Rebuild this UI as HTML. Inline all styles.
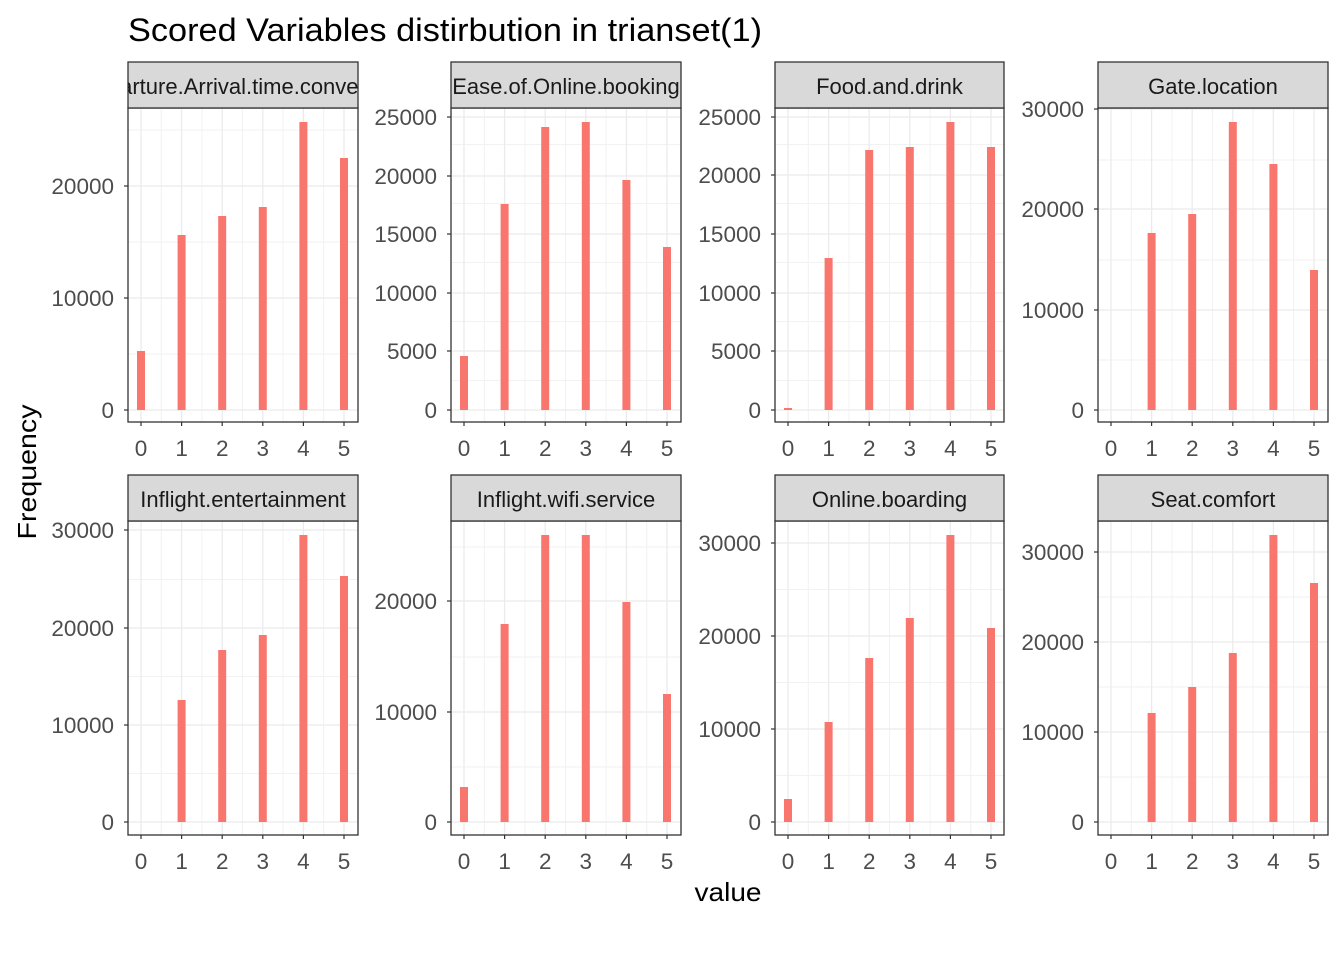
<!DOCTYPE html>
<html><head><meta charset="utf-8"><style>
html,body{margin:0;padding:0;background:#fff}
svg{display:block;font-family:"Liberation Sans",Arial,sans-serif}
</style></head><body>
<svg id="s" width="1344" height="960" xmlns="http://www.w3.org/2000/svg">
<text x="128" y="41" font-size="32" fill="#000" textLength="634" lengthAdjust="spacingAndGlyphs">Scored Variables distirbution in trianset(1)</text>
<text x="728" y="901" font-size="26" fill="#000" text-anchor="middle" textLength="67" lengthAdjust="spacingAndGlyphs">value</text>
<text transform="translate(36,472) rotate(-90)" font-size="26" fill="#000" text-anchor="middle" textLength="135" lengthAdjust="spacingAndGlyphs">Frequency</text>
</svg>
<script>
var s=document.getElementById('s');var NS='http://www.w3.org/2000/svg';
function el(t,a,txt){var e=document.createElementNS(NS,t);for(var k in a)e.setAttribute(k,a[k]);if(txt!=null)e.textContent=txt;s.appendChild(e);return e;}
var cols=[[128,358],[451,681],[775,1004],[1098,1328]];
var rows=[{st:62,top:108,bot:422,zero:410},{st:475,top:521,bot:835,zero:822}];
var P=[
 {c:0,r:0,name:"Departure.Arrival.time.convenient",ticks:[[0,410],[10000,298],[20000,186]],bars:[351,235,216,207,122,158]},
 {c:1,r:0,name:"Ease.of.Online.booking",ticks:[[0,410],[5000,351],[10000,293],[15000,234],[20000,176],[25000,117]],bars:[356,204,127,122,180,247]},
 {c:2,r:0,name:"Food.and.drink",ticks:[[0,410],[5000,351],[10000,293],[15000,234],[20000,175],[25000,117]],bars:[408,258,150,147,122,147]},
 {c:3,r:0,name:"Gate.location",ticks:[[0,410],[10000,310],[20000,209],[30000,109]],bars:[null,233,214,122,164,270]},
 {c:0,r:1,name:"Inflight.entertainment",ticks:[[0,822],[10000,725],[20000,628],[30000,530]],bars:[null,700,650,635,535,576]},
 {c:1,r:1,name:"Inflight.wifi.service",ticks:[[0,822],[10000,712],[20000,601]],bars:[787,624,535,535,602,694]},
 {c:2,r:1,name:"Online.boarding",ticks:[[0,822],[10000,729],[20000,636],[30000,543]],bars:[799,722,658,618,535,628]},
 {c:3,r:1,name:"Seat.comfort",ticks:[[0,822],[10000,732],[20000,642],[30000,552]],bars:[null,713,687,653,535,583]}
];
P.forEach(function(p,i){
 var x0=cols[p.c][0],x1=cols[p.c][1],R=rows[p.r];
 var xs=function(v){return x0+13+v*40.6;};
 for(var v=0.5;v<5;v+=1)el('line',{x1:xs(v),x2:xs(v),y1:R.top,y2:R.bot,stroke:'#f2f2f2','stroke-width':1});
 var t=p.ticks,d=t[0][1]-t[1][1];
 for(var j=0;j<t.length+1;j++){var y=t[0][1]-d*(j+0.5);if(y>R.top)el('line',{x1:x0,x2:x1,y1:y,y2:y,stroke:'#f2f2f2','stroke-width':1});}
 var ym=t[0][1]+d*0.5; if(ym<R.bot)el('line',{x1:x0,x2:x1,y1:ym,y2:ym,stroke:'#f2f2f2'});
 for(var v=0;v<=5;v++)el('line',{x1:xs(v),x2:xs(v),y1:R.top,y2:R.bot,stroke:'#ebebeb','stroke-width':1.3});
 t.forEach(function(tk){el('line',{x1:x0,x2:x1,y1:tk[1],y2:tk[1],stroke:'#ebebeb','stroke-width':1.3});
  el('line',{x1:x0-4,x2:x0,y1:tk[1],y2:tk[1],stroke:'#333','stroke-width':1.2});
  el('text',{x:x0-14,y:tk[1]+8,'font-size':22.5,fill:'#4d4d4d','text-anchor':'end'},String(tk[0]));});
 p.bars.forEach(function(b,k){if(b==null)return;var h=R.zero-b;if(h<1.5){b=R.zero-1.5;h=1.5;}
  el('rect',{x:xs(k)-4,y:b,width:8,height:h,fill:'#f8766d'});});
 for(var v=0;v<=5;v++){el('line',{x1:xs(v),x2:xs(v),y1:R.bot,y2:R.bot+4,stroke:'#333','stroke-width':1.2});
  el('text',{x:xs(v),y:R.bot+34,'font-size':22.5,fill:'#4d4d4d','text-anchor':'middle'},String(v));}
 el('rect',{x:x0,y:R.top,width:x1-x0,height:R.bot-R.top,fill:'none',stroke:'#333','stroke-width':1.3});
 var cp=el('clipPath',{id:'c'+i});var r=document.createElementNS(NS,'rect');r.setAttribute('x',x0);r.setAttribute('y',R.st);r.setAttribute('width',x1-x0);r.setAttribute('height',R.top-R.st);cp.appendChild(r);
 el('rect',{x:x0,y:R.st,width:x1-x0,height:R.top-R.st,fill:'#d9d9d9',stroke:'#333','stroke-width':1.3});
 el('text',{x:(x0+x1)/2,y:R.st+32,'font-size':22,fill:'#1a1a1a','text-anchor':'middle','clip-path':'url(#c'+i+')'},p.name);
});
</script>
</body></html>
